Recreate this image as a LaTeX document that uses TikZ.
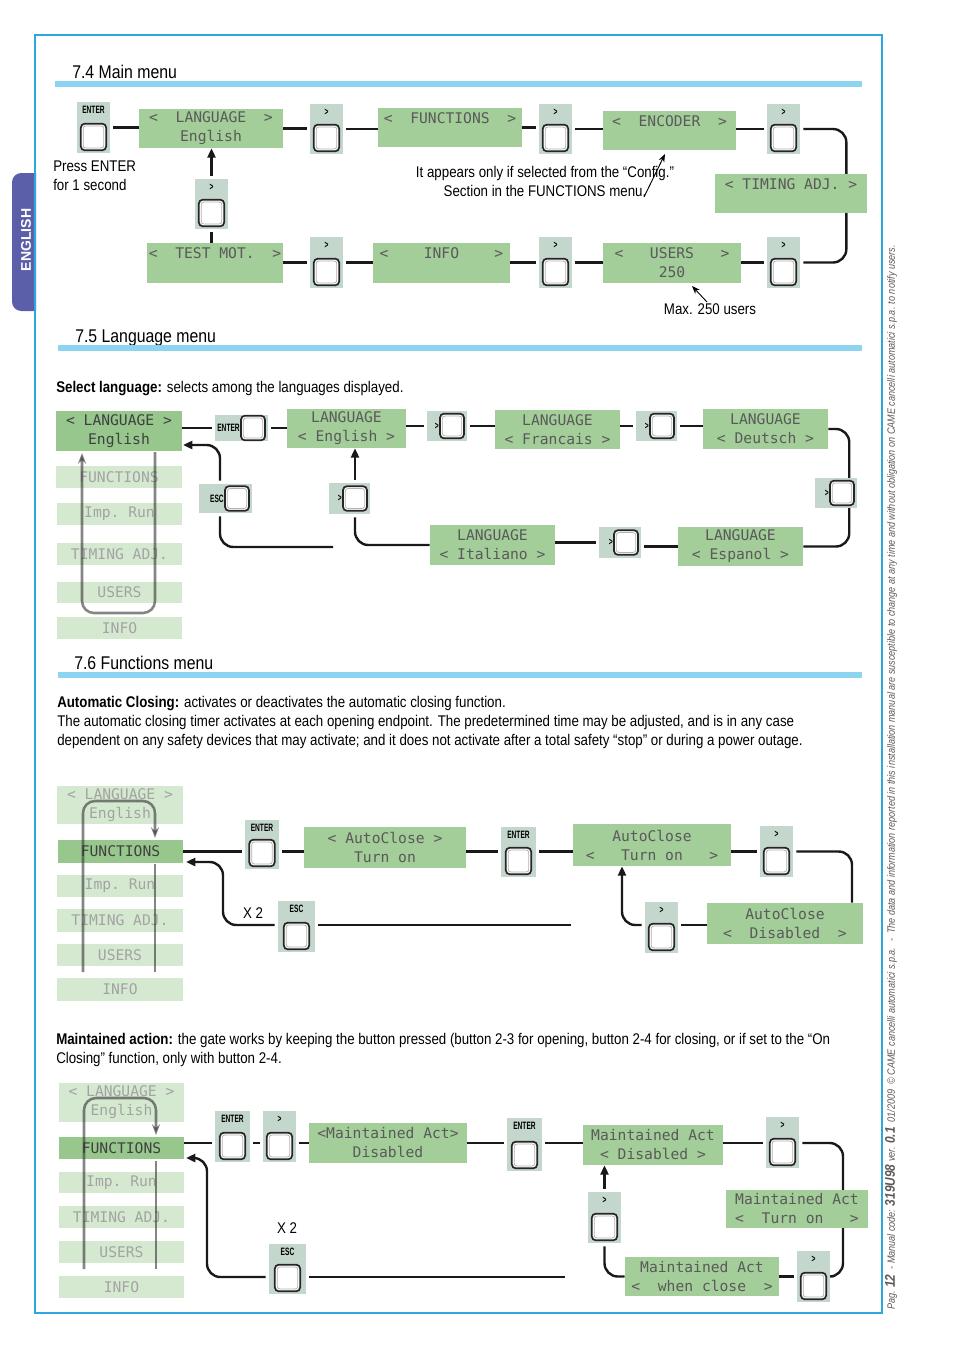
\documentclass[tikz,border=0pt]{standalone}
\usepackage{fontspec}
\setmainfont{Liberation Sans}[FakeStretch=0.86]
\newfontfamily\lcdfont{DejaVu Sans Mono}
\newfontfamily\labfont{Liberation Sans}[FakeStretch=0.62]
\newfontfamily\tabfont{Liberation Sans}
\newfontfamily\sidefont{Liberation Sans}[FakeStretch=0.85]
\usetikzlibrary{arrows.meta,calc}
\pgfdeclarelayer{background}
\pgfsetlayers{background,main}
\definecolor{lcdg}{HTML}{A3CD99}
\definecolor{lcda}{HTML}{97C78D}
\definecolor{lcdp}{HTML}{D5E9D0}
\definecolor{btnbgc}{HTML}{C4D7CC}
\definecolor{cyanb}{HTML}{2BA8E0}
\definecolor{barc}{HTML}{8DD4F1}
\definecolor{tabc}{HTML}{5B5EA8}
\definecolor{lcdtxt}{HTML}{5A5A5A}
\definecolor{paletxt}{HTML}{A3A3A3}
\tikzset{
 lcd/.style={fill=lcdg, inner sep=0pt, align=center, text=lcdtxt, font=\lcdfont\fontsize{11}{14.25}\selectfont},
 lcdpale/.style={lcd, fill=lcdp, text=paletxt},
 lcdact/.style={lcd, fill=lcda, text=black!75},
 btnbg/.style={fill=btnbgc, inner sep=0pt, outer sep=2.5pt},
 key/.style={draw=black!85, line width=1.3pt, fill=white, rounded corners=3pt, inner sep=0pt, minimum width=19pt, minimum height=20pt},
 keyin/.style={draw=black!30, line width=0.6pt, rounded corners=2pt, inner sep=0pt, minimum width=15.5pt, minimum height=16.5pt},
 blab/.style={font=\labfont\bfseries\fontsize{8}{9}\selectfont, inner sep=0pt},
 conn/.style={draw=black!90, line width=1.8pt},
 arr/.style={conn, -{Triangle[length=7pt,width=6pt]}},
 thinarr/.style={draw=black, line width=0.7pt, -{Stealth[length=6pt,width=4.5pt]}},
 loopl/.style={draw=black!80, opacity=0.6, line width=1.9pt, rounded corners=9pt},
 looparr/.style={loopl, -{Stealth[length=8pt,width=6pt]}},
 note/.style={inner sep=0pt, font=\fontsize{11.6}{14.25}\selectfont},
 head/.style={inner sep=0pt, font=\fontsize{13.8}{17}\selectfont},
}
\newcommand\lcdnode[7][lcd]{\node[#1, minimum width={(#5-#3)*0.75pt}, minimum height={(#6-#4)*0.75pt}] (#2) at ({(#3+#5)/2},{(#4+#6)/2}) {#7};}
\newcommand\vbtn[6]{%
 \node[btnbg, minimum width={(#4-#2)*0.75pt}, minimum height={(#5-#3)*0.75pt}] (#1) at ({(#2+#4)/2},{(#3+#5)/2}) {};
 \node[blab] (#1l) at ({(#2+#4)/2},{#3+8}) {#6};
 \node[key] (#1k) at ({(#2+#4)/2},{#5-16}) {};
 \node[keyin] (#1i) at (#1k) {};}
\newcommand\hbtn[6]{%
 \node[btnbg, minimum width={(#4-#2)*0.75pt}, minimum height={(#5-#3)*0.75pt}] (#1) at ({(#2+#4)/2},{(#3+#5)/2}) {};
 \node[key, minimum width=18pt, minimum height=18.5pt] (#1k) at ({#4-15},{(#3+#5)/2}) {};
 \node[keyin, minimum width=14.5pt, minimum height=15pt] (#1i) at (#1k) {};
 \node[blab, anchor=east] (#1l) at ({#4-28},{(#3+#5)/2}) {#6};}
\begin{document}
\begin{tikzpicture}[x=0.75pt,y=-0.75pt]
\useasboundingbox (0,0) rectangle (954,1350);
% tab, frame, side text
\begin{scope}
\clip (0,160) rectangle (36,320);
\fill[tabc, rounded corners=7pt] (12,173) rectangle (50,311);
\end{scope}
\node[rotate=90, text=white, inner sep=0pt, font=\tabfont\bfseries\fontsize{10.5}{12}\selectfont] (tabtxt) at (26,240) {ENGLISH};
\draw[cyanb, line width=1.5pt] (35,35) rectangle (882,1313);
\node[rotate=90, anchor=west, inner sep=0pt, text=black!65, font=\sidefont\itshape\fontsize{8}{9}\selectfont] (side) at (891,1310)
 {Pag. {\bfseries\fontsize{10.5}{10}\selectfont 12} ~- Manual code: {\bfseries\fontsize{10.5}{10}\selectfont 319U98} ver. {\bfseries\fontsize{10.5}{10}\selectfont 0.1} ~01/2009 ~© CAME cancelli automatici s.p.a. ~- ~The data and information reported in this installation manual are susceptible to change at any time and without obligation on CAME cancelli automatici s.p.a. to notify users.};

% ===== 7.4 =====
\node[head, anchor=base west] (h74) at (72,78) {7.4 Main menu};
\fill[barc] (55,81) rectangle (862,87);
\vbtn{ent1}{77}{102}{110}{153}{ENTER}
\lcdnode{lang1}{139}{109}{283}{148}{<~~LANGUAGE~~>\\English}
\vbtn{g1}{310}{104}{343}{154}{>}
\lcdnode{func1}{378}{108}{522}{147}{<~~FUNCTIONS~~>\\\mbox{}}
\vbtn{g2}{539}{104}{572}{154}{>}
\lcdnode{enc1}{603}{111}{736}{150}{<~~ENCODER~~>\\\mbox{}}
\vbtn{g3}{767}{104}{800}{154}{>}
\lcdnode{tim1}{715}{174}{867}{213}{<~TIMING~ADJ.~>\\\mbox{}}
\vbtn{g4}{767}{237}{800}{288}{>}
\lcdnode{usr1}{603}{243}{741}{283}{<~~~USERS~~~>\\250}
\vbtn{g5}{539}{237}{572}{288}{>}
\lcdnode{inf1}{373}{243}{510}{283}{<~~~~INFO~~~~>\\\mbox{}}
\vbtn{g6}{310}{237}{343}{288}{>}
\lcdnode{tst1}{147}{243}{283}{283}{<~~TEST~MOT.~~>\\\mbox{}}
\vbtn{g7}{195}{179}{228}{229}{>}
\node[note, anchor=north west, align=left] (press) at (53,161) {Press ENTER\\for 1 second};
\node[note, align=center] (appear) at (545,181) {It appears only if selected from the “Config.”\\Section in the FUNCTIONS menu.};
\node[note] (maxu) at (710,309) {Max. 250 users};
\coordinate (encA) at (665,154); \coordinate (encT) at (644,197);
\coordinate (usrA) at (692,286); \coordinate (usrT) at (707,302);
\draw[thinarr] (encT) -- (encA);
\draw[thinarr] (usrT) -- (usrA);
\begin{pgfonlayer}{background}
\draw[conn] (ent1.east) -- (ent1.east -| lang1.west);
\draw[conn] (lang1.east) -- (lang1.east -| g1.west);
\draw[conn] (g1.east) -- (g1.east -| func1.west);
\draw[conn] (func1.east) -- (func1.east -| g2.west);
\draw[conn] (g2.east) -- (g2.east -| enc1.west);
\draw[conn] (g3.west -| enc1.east) -- (g3.west);
\draw[conn, rounded corners=10pt] (g3.east) -- ++(43,0) |- (g4.east);
\draw[conn] (g4.west) -- (g4.west -| usr1.east);
\draw[conn] (g5.east) -- (g5.east -| usr1.west);
\draw[conn] (g5.west) -- (g5.west -| inf1.east);
\draw[conn] (g6.east) -- (g6.east -| inf1.west);
\draw[conn] (g6.west) -- (g6.west -| tst1.east);
\draw[conn] (g7.south) -- (g7.south |- tst1.north);
\draw[arr] (g7.north) -- (g7.north |- lang1.south);
\end{pgfonlayer}

% ===== 7.5 =====
\node[head, anchor=base west] (h75) at (75,342) {7.5 Language menu};
\fill[barc] (58,345) rectangle (862,351);
\node[note, anchor=base west] (sel) at (56,392) {\textbf{Select language:} selects among the languages displayed.};
\lcdnode[lcdact]{m1}{56}{411}{182}{451}{<~LANGUAGE~>\\English}
\lcdnode[lcdpale]{m2}{56}{466}{182}{488}{FUNCTIONS}
\lcdnode[lcdpale]{m3}{57}{503}{182}{525}{Imp.~Run}
\lcdnode[lcdpale]{m4}{57}{543}{182}{565}{TIMING~ADJ.}
\lcdnode[lcdpale]{m5}{57}{582}{182}{603}{USERS}
\lcdnode[lcdpale]{m6}{57}{617}{182}{639}{INFO}
\hbtn{e2}{215}{415}{268}{441}{ENTER}
\lcdnode{le}{287}{409}{406}{448}{LANGUAGE\\<~English~>}
\hbtn{gb1}{427}{411}{467}{441}{>}
\lcdnode{lf}{495}{410}{620}{449}{LANGUAGE\\<~Francais~>}
\hbtn{gb2}{636}{411}{677}{441}{>}
\lcdnode{ld}{703}{409}{828}{449}{LANGUAGE\\<~Deutsch~>}
\hbtn{gb3}{815}{478}{857}{508}{>}
\lcdnode{les}{678}{527}{803}{566}{LANGUAGE\\<~Espanol~>}
\hbtn{gb4}{599}{527}{641}{558}{>}
\lcdnode{li}{430}{525}{555}{565}{LANGUAGE\\<~Italiano~>}
\hbtn{gb5}{329}{483}{370}{514}{>}
\hbtn{esc1}{199}{484}{252}{513}{ESC}
\coordinate (lp1) at (155,452); \coordinate (lp2) at (155,613);
\coordinate (lp3) at (82,613); \coordinate (lp4) at (82,453);
\draw[looparr] (lp1) -- (lp2) -- (lp3) -- (lp4);
\coordinate (escx) at (220,0);
\coordinate (escfree) at (333,547);
\coordinate (m1a) at (183,445);
\begin{pgfonlayer}{background}
\draw[conn] (e2.west -| m1.east) -- (e2.west);
\draw[conn] (e2.east) -- (e2.east -| le.west);
\draw[conn] (gb1.west -| le.east) -- (gb1.west);
\draw[conn] (gb1.east) -- (gb1.east -| lf.west);
\draw[conn] (gb2.west -| lf.east) -- (gb2.west);
\draw[conn] (gb2.east) -- (gb2.east -| ld.west);
\draw[conn, rounded corners=10pt] (ld.east) -- ++(21,0) |- (les.east);
\draw[conn] (les.west) -- (les.west -| gb4.east);
\draw[conn] (gb4.west) -- (gb4.west -| li.east);
\draw[conn, rounded corners=10pt] (li.west) -- (gb5k |- li.west) -- (gb5k |- gb5.south);
\draw[arr] (gb5k |- gb5.north) -- (gb5k |- le.south);
\draw[conn, rounded corners=10pt] (esc1.south -| escx) -- (escx |- escfree) -- (escfree);
\draw[arr, rounded corners=10pt] (esc1.north -| escx) -- (escx |- m1a) -- (m1a);
\end{pgfonlayer}

% ===== 7.6 =====
\node[head, anchor=base west] (h76) at (74,669) {7.6 Functions menu};
\fill[barc] (58,672) rectangle (862,678);
\node[note, anchor=north west, align=left] (para1) at (57,696) {\textbf{Automatic Closing:} activates or deactivates the automatic closing function.\\The automatic closing timer activates at each opening endpoint. The predetermined time may be adjusted, and is in any case\\dependent on any safety devices that may activate; and it does not activate after a total safety “stop” or during a power outage.};

\lcdnode[lcdpale]{n1}{57}{786}{183}{824}{<~LANGUAGE~>\\English}
\lcdnode[lcdact]{n2}{58}{840}{183}{863}{FUNCTIONS}
\lcdnode[lcdpale]{n3}{57}{875}{183}{897}{Imp.~Run}
\lcdnode[lcdpale]{n4}{57}{909}{183}{932}{TIMING~ADJ.}
\lcdnode[lcdpale]{n5}{57}{944}{183}{966}{USERS}
\lcdnode[lcdpale]{n6}{57}{978}{183}{1001}{INFO}
\vbtn{e3}{245}{820}{279}{869}{ENTER}
\lcdnode{ac1}{304}{827}{466}{868}{<~AutoClose~>\\Turn~on}
\vbtn{e4}{501}{827}{536}{877}{ENTER}
\lcdnode{ac2}{573}{824}{731}{866}{AutoClose\\<~~~Turn~on~~~>}
\vbtn{gc1}{760}{826}{793}{877}{>}
\lcdnode{ac3}{707}{903}{863}{944}{AutoClose\\<~~Disabled~~>}
\vbtn{gc2}{645}{902}{678}{953}{>}
\vbtn{esc2}{278}{901}{315}{952}{ESC}
\node[note] (x2a) at (253,913) {X 2};
\coordinate (q1) at (83,972); \coordinate (q2) at (83,801);
\coordinate (q3) at (155,801); \coordinate (q4) at (155,838);
\coordinate (q5) at (155,864); \coordinate (q6) at (155,972);
\draw[looparr] (q1) -- (q2) -- (q3) -- (q4);
\draw[loopl] (q5) -- (q6);
\coordinate (c1r) at (852,0); \coordinate (c1l) at (622,0);
\coordinate (esc2y) at (0,925); \coordinate (esc2free) at (571,925);
\coordinate (c2x) at (223,0); \coordinate (n2tip) at (186,862);
\begin{pgfonlayer}{background}
\draw[conn] (n2.east) -- (n2.east -| e3.west);
\draw[conn] (e3.east |- n2.east) -- (ac1.west |- n2.east);
\draw[conn] (ac1.east |- n2.east) -- (e4.west |- n2.east);
\draw[conn] (e4.east |- n2.east) -- (ac2.west |- n2.east);
\draw[conn] (ac2.east |- n2.east) -- (gc1.west |- n2.east);
\draw[conn, rounded corners=10pt] (gc1.east |- n2.east) -- (c1r |- n2.east) -- (c1r |- ac3.north);
\draw[conn] (ac3.west |- esc2y) -- (gc2.east |- esc2y);
\draw[arr, rounded corners=10pt] (gc2.west |- esc2y) -- (c1l |- esc2y) -- (c1l |- ac2.south);
\draw[conn] (esc2.east |- esc2y) -- (esc2free);
\draw[arr, rounded corners=10pt] (esc2.west |- esc2y) -- (c2x |- esc2y) -- (c2x |- n2tip) -- (n2tip);
\end{pgfonlayer}

\node[note, anchor=north west, align=left] (para2) at (56,1033) {\textbf{Maintained action:} the gate works by keeping the button pressed (button 2-3 for opening, button 2-4 for closing, or if set to the “On\\Closing” function, only with button 2-4.};

\lcdnode[lcdpale]{p1}{59}{1083}{184}{1122}{<~LANGUAGE~>\\English}
\lcdnode[lcdact]{p2}{59}{1137}{184}{1159}{FUNCTIONS}
\lcdnode[lcdpale]{p3}{59}{1172}{184}{1193}{Imp.~Run}
\lcdnode[lcdpale]{p4}{59}{1206}{184}{1228}{TIMING~ADJ.}
\lcdnode[lcdpale]{p5}{59}{1241}{184}{1263}{USERS}
\lcdnode[lcdpale]{p6}{59}{1276}{184}{1298}{INFO}
\vbtn{e6}{215}{1111}{250}{1162}{ENTER}
\vbtn{gd1}{263}{1111}{296}{1162}{>}
\lcdnode{ma1}{309}{1123}{467}{1163}{<Maintained~Act>\\Disabled}
\vbtn{e7}{507}{1118}{542}{1171}{ENTER}
\lcdnode{ma2}{583}{1125}{723}{1165}{Maintained~Act\\<~Disabled~>}
\vbtn{gd2}{766}{1117}{799}{1168}{>}
\lcdnode{ma3}{726}{1190}{868}{1228}{Maintained~Act\\<~~Turn~on~~~>}
\vbtn{gd3}{797}{1251}{830}{1302}{>}
\lcdnode{ma4}{625}{1257}{779}{1296}{Maintained~Act\\<~~when~close~~>}
\vbtn{gd4}{588}{1192}{621}{1243}{>}
\vbtn{esc3}{269}{1244}{306}{1294}{ESC}
\node[note] (x2b) at (287,1228) {X 2};
\coordinate (s1) at (84,1269); \coordinate (s2) at (84,1098);
\coordinate (s3) at (156,1098); \coordinate (s4) at (156,1135);
\coordinate (s5) at (156,1161); \coordinate (s6) at (156,1269);
\draw[looparr] (s1) -- (s2) -- (s3) -- (s4);
\draw[loopl] (s5) -- (s6);
\coordinate (r2) at (0,1143); \coordinate (c3r) at (843,0);
\coordinate (esc3y) at (0,1277); \coordinate (esc3free) at (565,1277);
\coordinate (c4x) at (207,0); \coordinate (p2tip) at (186,1158);
\begin{pgfonlayer}{background}
\draw[conn] (p2.east |- r2) -- (e6.west |- r2);
\draw[conn] (e6.east |- r2) -- (gd1.west |- r2);
\draw[conn] (gd1.east |- r2) -- (ma1.west |- r2);
\draw[conn] (ma1.east |- r2) -- (e7.west |- r2);
\draw[conn] (e7.east |- r2) -- (ma2.west |- r2);
\draw[conn] (ma2.east |- r2) -- (gd2.west |- r2);
\draw[conn, rounded corners=10pt] (gd2.east |- r2) -- (c3r |- r2) -- (c3r |- gd3.east) -- (gd3.east);
\draw[conn] (gd3.west) -- (gd3.west -| ma4.east);
\draw[conn, rounded corners=10pt] (ma4.west) -- (ma4.west -| gd4.south) -- (gd4.south);
\draw[arr] (gd4.north) -- (gd4.north |- ma2.south);
\draw[conn] (esc3.east |- esc3y) -- (esc3free);
\draw[arr, rounded corners=10pt] (esc3.west |- esc3y) -- (c4x |- esc3y) -- (c4x |- p2tip) -- (p2tip);
\end{pgfonlayer}
\end{tikzpicture}
\end{document}
